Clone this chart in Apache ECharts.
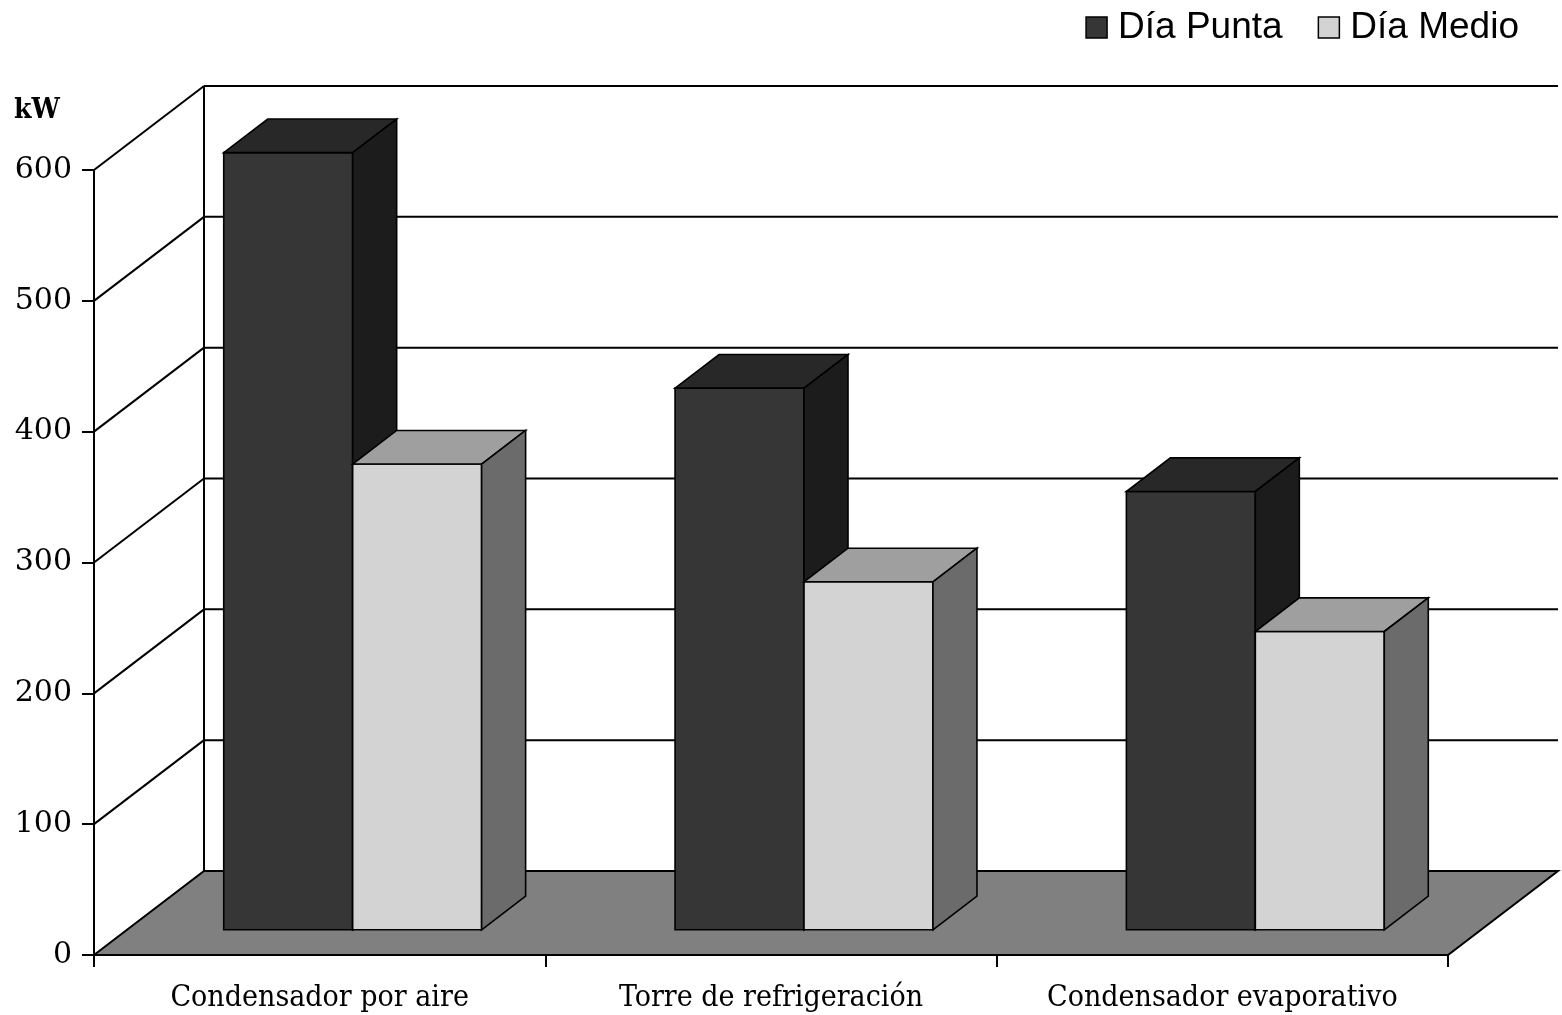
<!DOCTYPE html>
<html>
<head>
<meta charset="utf-8">
<script src="https://cdn.jsdelivr.net/npm/echarts@6/dist/echarts.min.js"></script>
<style>
  html, body { margin: 0; padding: 0; background: #fff; }
  #chart { width: 1562px; height: 1015px; }
</style>
</head>
<body>
<div id="chart"></div>
<script>
// Potencia consumida por sistema de condensación (kW)
const categories = ['Condensador por aire', 'Torre de refrigeración', 'Condensador evaporativo'];
const seriesNames = ['Día Punta', 'Día Medio'];
const diaPunta = [594, 414, 335];
const diaMedio = [356, 266, 228];
const yTicks = [0, 100, 200, 300, 400, 500, 600];

// Oblique projection of the depth axis: screen offset of the full floor depth
const DEPTH = [110, -84];
const BAR_FRONT = 0.3;   // bars occupy the middle of the depth
const BAR_BACK = 0.7;
const GAP_WIDTH = 1.5;   // gap between groups, in bar widths

const SERIF = 'DejaVu Serif';
const SERIF_NARROW = 'DejaVu Serif Condensed';
const SANS = 'Liberation Sans';

const barColors = [
  { front: '#363636', top: '#282828', side: '#1c1c1c' },
  { front: '#d3d3d3', top: '#9f9f9f', side: '#6b6b6b' }
];

function shift(p, f) {
  return [p[0] + DEPTH[0] * f, p[1] + DEPTH[1] * f];
}

// horizontal extent of the category band in the front plane
function plotSpan(api) {
  const cw = api.size([1, 0])[0];
  const c0 = api.coord([0, 0]);
  const x0 = c0[0] - cw / 2;
  return { x0: x0, x1: x0 + cw * categories.length, y0: c0[1], cw: cw };
}

const edge = { stroke: '#000', lineWidth: 2 };

// floor and the back-left vertical edge of the wall
function renderFloor(params, api) {
  const s = plotSpan(api);
  const yTop = api.coord([0, yTicks[yTicks.length - 1]])[1];
  const a = shift([s.x0, s.y0], 1), b = shift([s.x0, yTop], 1);
  return {
    type: 'group',
    children: [
      {
        type: 'polygon',
        shape: { points: [[s.x0, s.y0], [s.x1, s.y0], shift([s.x1, s.y0], 1), shift([s.x0, s.y0], 1)] },
        style: Object.assign({ fill: '#808080' }, edge)
      },
      { type: 'line', shape: { x1: a[0], y1: a[1], x2: b[0], y2: b[1] }, style: edge }
    ]
  };
}

// one grid level: diagonal on the left wall + horizontal line on the back wall
function renderGrid(params, api) {
  const s = plotSpan(api);
  const y = api.coord([0, api.value(1)])[1];
  const p = [s.x0, y], pb = shift(p, 1), qb = shift([s.x1, y], 1);
  return {
    type: 'group',
    children: [
      { type: 'line', shape: { x1: p[0], y1: p[1], x2: pb[0], y2: pb[1] }, style: edge },
      { type: 'line', shape: { x1: pb[0], y1: pb[1], x2: qb[0], y2: qb[1] }, style: edge }
    ]
  };
}

function barRenderer(seriesIdx) {
  const col = barColors[seriesIdx];
  return function (params, api) {
    const ci = api.value(0);
    const v = api.value(1);
    const cw = api.size([1, 0])[0];
    const bw = cw / (2 + GAP_WIDTH);
    const base = api.coord([ci, 0]);
    const top = api.coord([ci, v])[1];
    const xl = base[0] - bw + seriesIdx * bw;
    const xr = xl + bw;
    const yb = base[1];
    const fbl = shift([xl, yb], BAR_FRONT), fbr = shift([xr, yb], BAR_FRONT);
    const ftl = shift([xl, top], BAR_FRONT), ftr = shift([xr, top], BAR_FRONT);
    const btl = shift([xl, top], BAR_BACK), btr = shift([xr, top], BAR_BACK);
    const bbr = shift([xr, yb], BAR_BACK);
    const st = function (fill) { return { fill: fill, stroke: '#000', lineWidth: 1.6, lineJoin: 'miter' }; };
    return {
      type: 'group',
      children: [
        { type: 'polygon', shape: { points: [fbl, fbr, ftr, ftl] }, style: st(col.front) },
        { type: 'polygon', shape: { points: [ftl, ftr, btr, btl] }, style: st(col.top) },
        { type: 'polygon', shape: { points: [fbr, bbr, btr, ftr] }, style: st(col.side) }
      ]
    };
  };
}

const chart = echarts.init(document.getElementById('chart'), null, { renderer: 'canvas' });

chart.setOption({
  animation: false,
  backgroundColor: '#ffffff',
  title: {
    text: 'kW',
    left: 9,
    top: 92,
    textStyle: { fontFamily: SERIF_NARROW, fontWeight: 'bold', fontSize: 28, color: '#000' }
  },
  legend: {
    data: seriesNames,
    right: 38,
    top: 4,
    icon: 'rect',
    itemWidth: 21,
    itemHeight: 21,
    itemGap: 35,
    itemStyle: { borderColor: '#000', borderWidth: 1.5 },
    textStyle: { fontFamily: SANS, fontSize: 37, color: '#000', padding: [0, 0, 0, 6] }
  },
  grid: { left: 94, right: 114, top: 170, bottom: 60, containLabel: false },
  xAxis: {
    type: 'category',
    data: categories,
    boundaryGap: true,
    axisLine: { show: true, lineStyle: { color: '#000', width: 2 } },
    axisTick: { show: true, interval: 0, length: 12, lineStyle: { color: '#000', width: 2 } },
    axisLabel: { interval: 0, fontFamily: SERIF_NARROW, fontSize: 30, color: '#000', margin: 28 },
    splitLine: { show: false }
  },
  yAxis: {
    type: 'value',
    min: 0,
    max: 600,
    interval: 100,
    axisLine: { show: true, lineStyle: { color: '#000', width: 2 } },
    axisTick: { show: true, length: 12, lineStyle: { color: '#000', width: 2 } },
    axisLabel: { fontFamily: SERIF, fontSize: 30, color: '#000', margin: 22 },
    splitLine: { show: false }
  },
  series: [
    {
      type: 'custom',
      name: 'floor',
      clip: false,
      silent: true,
      z: 1,
      renderItem: renderFloor,
      data: [[0, 0]]
    },
    {
      type: 'custom',
      name: 'grid',
      clip: false,
      silent: true,
      z: 2,
      renderItem: renderGrid,
      data: yTicks.slice(1).map(function (v) { return [0, v]; })
    },
    {
      type: 'custom',
      name: seriesNames[0],
      clip: false,
      z: 3,
      itemStyle: { color: barColors[0].front },
      renderItem: barRenderer(0),
      encode: { x: 0, y: 1 },
      data: diaPunta.map(function (v, i) { return [i, v]; })
    },
    {
      type: 'custom',
      name: seriesNames[1],
      clip: false,
      z: 4,
      itemStyle: { color: barColors[1].front },
      renderItem: barRenderer(1),
      encode: { x: 0, y: 1 },
      data: diaMedio.map(function (v, i) { return [i, v]; })
    }
  ]
});
</script>
</body>
</html>
